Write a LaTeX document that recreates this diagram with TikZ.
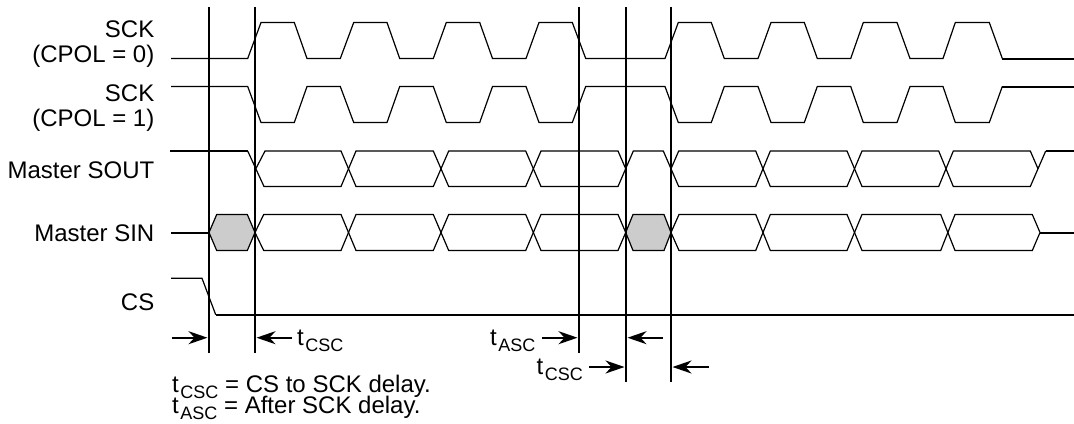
\documentclass[tikz,border=0pt]{standalone}
\usepackage{fontspec}
\setmainfont{Liberation Sans}
\usetikzlibrary{arrows.meta}
\newcommand{\sublbl}[1]{t\kern1.6bp\raisebox{-6bp}{\fontsize{18bp}{20bp}\selectfont #1}}
\tikzset{
  wave/.style={line width=1.2bp,line join=miter},
  bus/.style={line width=2bp},
  mark line/.style={line width=2bp},
  dim arrow/.style={line width=2bp,-{Stealth[length=19bp,width=13bp,inset=6bp]},shorten >=0.5bp},
  lbl/.style={anchor=base east,inner sep=0pt,font=\fontsize{24bp}{26bp}\selectfont},
  txt/.style={anchor=base west,inner sep=0pt,font=\fontsize{24bp}{26bp}\selectfont}
}
\begin{document}
\begin{tikzpicture}[x=1bp,y=-1bp]
\useasboundingbox (0,0) rectangle (1074,423);
% SCK CPOL=0
\draw[wave] (171,58.5)--(247.7,58.5)--(261,22.5)--(294.3,22.5)--(307,58.5)--(340.3,58.5)--(353.7,22.5)--(387,22.5)--(399.7,58.5)--(433.3,58.5)--(446.3,22.5)--(479.7,22.5)--(492.5,58.5)--(526,58.5)--(539,22.5)--(572.3,22.5)--(585.7,58.5)--(665,58.5)--(678.3,22.5)--(711.3,22.5)--(724.3,58.5)--(758,58.5)--(771,22.5)--(804.3,22.5)--(817.3,58.5)--(850.7,58.5)--(863.3,22.5)--(897,22.5)--(910,58.5)--(943,58.5)--(955.3,22.5)--(989.3,22.5)--(1002.3,58.5);
\draw[bus] (1002.3,58.5)--(1074,58.5);
% SCK CPOL=1
\draw[wave] (171,86.5)--(247.7,86.5)--(261,122.5)--(294.3,122.5)--(307,86.5)--(340.3,86.5)--(353.7,122.5)--(387,122.5)--(399.7,86.5)--(433.3,86.5)--(446.3,122.5)--(479.7,122.5)--(492.5,86.5)--(526,86.5)--(539,122.5)--(572.3,122.5)--(585.7,86.5)--(665,86.5)--(678.3,122.5)--(711.3,122.5)--(724.3,86.5)--(758,86.5)--(771,122.5)--(804.3,122.5)--(817.3,86.5)--(850.7,86.5)--(863.3,122.5)--(897,122.5)--(910,86.5)--(943,86.5)--(955.3,122.5)--(989.3,122.5)--(1002.3,86.5);
\draw[bus] (1002.3,86.5)--(1074,86.5);
% Master SOUT
\draw[bus] (170,151)--(247.7,151);
\draw[wave] (247.7,151)--(264,186.5)--(341,186.5)--(356,151)--(433.3,151)--(448.7,186.5)--(525.7,186.5)--(541,151)--(618,151)--(625.7,168.75);
\draw[wave] (255.8,168.75)--(265,151)--(341,151)--(356,186.5)--(433.3,186.5)--(448.7,151)--(525.7,151)--(541,186.5)--(618,186.5)--(633.3,151)--(663.3,151)--(678.7,186.5)--(755.7,186.5)--(770.3,151)--(847,151)--(862,186.5)--(938.7,186.5)--(953.3,151)--(1030.3,151)--(1038,168.75);
\draw[wave] (671,168.75)--(678.7,151)--(755.7,151)--(770.3,186.5)--(847,186.5)--(862,151)--(938.7,151)--(953.3,186.5)--(1030.3,186.5)--(1045.7,151);
\draw[bus] (1045.7,151)--(1074,151);
% Master SIN
\draw[bus] (171,232.5)--(209,232.5);
\draw[wave,fill={rgb,255:red,204;green,204;blue,204}] (209,232.5)--(216.7,214.5)--(247.3,214.5)--(255,232.5)--(247.3,250.5)--(216.7,250.5)--cycle;
\draw[wave,fill={rgb,255:red,204;green,204;blue,204}] (625.7,232.5)--(633,214.5)--(664,214.5)--(671,232.5)--(664,250.5)--(633,250.5)--cycle;
\draw[wave] (255,232.5)--(263.7,214.5)--(341,214.5)--(356,250.5)--(433.3,250.5)--(448.7,214.5)--(525.7,214.5)--(541,250.5)--(618,250.5)--(625.7,232.5);
\draw[wave] (255,232.5)--(263.7,250.5)--(341,250.5)--(356,214.5)--(433.3,214.5)--(448.7,250.5)--(525.7,250.5)--(541,214.5)--(618,214.5)--(625.7,232.5);
\draw[wave] (671,232.5)--(679,214.5)--(755.7,214.5)--(770.3,250.5)--(847,250.5)--(862,214.5)--(940.7,214.5)--(955,250.5)--(1032.3,250.5)--(1040,232.5);
\draw[wave] (671,232.5)--(679,250.5)--(755.7,250.5)--(770.3,214.5)--(847,214.5)--(862,250.5)--(940.7,250.5)--(955,214.5)--(1032.3,214.5)--(1040,232.5);
\draw[bus] (1040,232.5)--(1074,232.5);
% CS
\draw[wave] (171,278.3)--(202,278.3)--(215.7,314.7);
\draw[bus] (215.7,314.7)--(1074,314.7);
% timing marks
\coordinate (m1t) at (209,7);   \coordinate (m1b) at (209,353);
\coordinate (m2t) at (255,7);   \coordinate (m2b) at (255,353);
\coordinate (m3t) at (579,7);   \coordinate (m3b) at (579,353);
\coordinate (m4t) at (626,7);   \coordinate (m4b) at (626,382);
\coordinate (m5t) at (671,7);   \coordinate (m5b) at (671,382);
\foreach \m in {1,...,5} \draw[mark line] (m\m t)--(m\m b);
% delay arrows
\coordinate (a1s) at (172,337.7);   \coordinate (a1e) at (208,337.7);
\coordinate (a2s) at (291.7,337.7); \coordinate (a2e) at (256,337.7);
\coordinate (a3s) at (542,337.7);   \coordinate (a3e) at (578,337.7);
\coordinate (a4s) at (663,337.7);   \coordinate (a4e) at (627,337.7);
\coordinate (a5s) at (589,367);     \coordinate (a5e) at (625,367);
\coordinate (a6s) at (709,367);     \coordinate (a6e) at (672,367);
\foreach \a in {1,...,6} \draw[dim arrow] (a\a s)--(a\a e);
% signal labels
\node[lbl] (l1) at (154.5,37.5) {SCK};
\node[lbl] (l2) at (154.5,62.5) {(CPOL = 0)};
\node[lbl] (l3) at (154.5,101.5) {SCK};
\node[lbl] (l4) at (154.5,126.5) {(CPOL = 1)};
\node[lbl] (l5) at (154.5,178) {Master SOUT};
\node[lbl] (l6) at (154.5,241) {Master SIN};
\node[lbl] (l7) at (154.5,310) {CS};
% delay labels
\node[txt] (d1) at (297,345.5) {\sublbl{CSC}};
\node[txt] (d2) at (490,345.5) {\sublbl{ASC}};
\node[txt] (d3) at (536.5,374.5) {\sublbl{CSC}};
% notes
\node[txt] (n1) at (172,392) {\sublbl{CSC} = CS to SCK delay.};
\node[txt] (n2) at (172,413) {\sublbl{ASC} = After SCK delay.};
\end{tikzpicture}
\end{document}
